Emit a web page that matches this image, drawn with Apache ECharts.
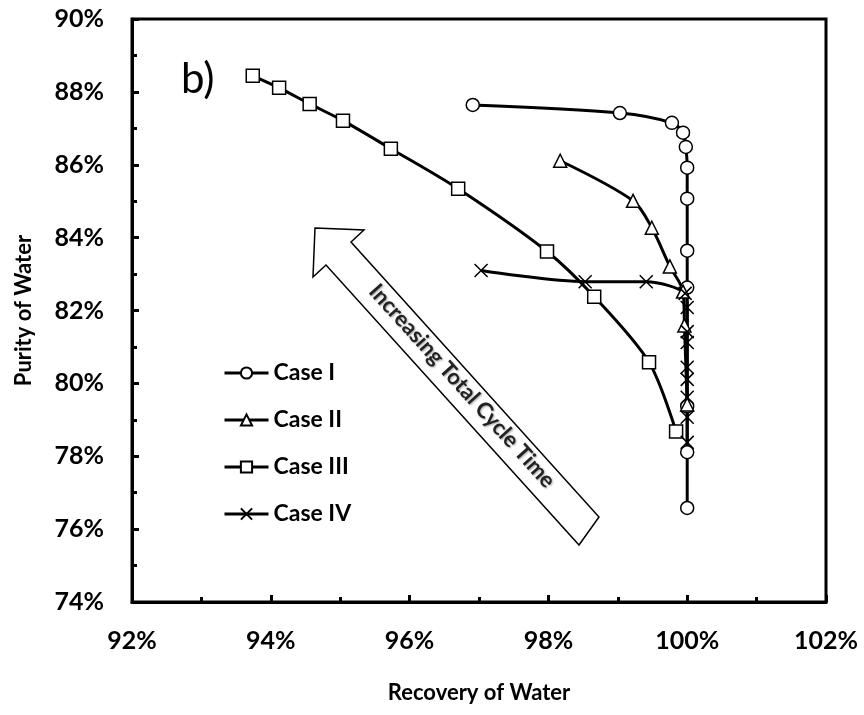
<!DOCTYPE html>
<html lang="en">
<head>
    <meta charset="UTF-8">
    <title>Purity vs Recovery of Water</title>
    <script src="https://cdn.jsdelivr.net/npm/echarts@6/dist/echarts.min.js"></script>
    <style>
        html, body { margin: 0; padding: 0; background: #fff; }
        #main { width: 864px; height: 715px; }
    </style>
</head>
<body>
<div id="main"></div>
<script type="text/javascript">
  // values, in percent
  var caseIX = [96.91, 99.03, 99.78, 99.94, 99.98, 100, 100, 100, 100, 100, 100, 100];
  var caseIY = [87.64, 87.42, 87.15, 86.88, 86.49, 85.92, 85.07, 83.64, 82.63, 79.37, 78.11, 76.58];

  var caseIIX = [98.17, 99.22, 99.49, 99.75, 99.94, 99.96, 100];
  var caseIIY = [86.11, 85.01, 84.27, 83.21, 82.52, 81.59, 79.42];

  var caseIIIX = [93.74, 94.12, 94.56, 95.04, 95.73, 96.70, 97.98, 98.66, 99.45, 99.84];
  var caseIIIY = [88.44, 88.11, 87.67, 87.21, 86.44, 85.34, 83.62, 82.38, 80.58, 78.68];

  var caseIVX = [97.03, 98.53, 99.41, 99.97, 100, 100, 100, 100, 100, 100, 100, 100];
  var caseIVY = [83.10, 82.79, 82.79, 82.47, 82.08, 81.42, 81.12, 80.44, 80.11, 79.62, 79.07, 78.38];

  var seriesNames = ['Case I', 'Case II', 'Case III', 'Case IV'];
  var xTicks = [92, 102, 2];   // min, max, interval
  var yTicks = [74, 90, 2];

  function zip(xs, ys) {
    var out = [];
    for (var i = 0; i < xs.length; i++) {
      out.push([xs[i], ys[i]]);
    }
    return out;
  }

  var FONT = 'Lato, "Open Sans", sans-serif';
  var crossSymbol = 'path://M0,0L10,10M0,10L10,0';

  function makeSeries(name, xs, ys, symbol) {
    return {
      name: name,
      type: 'line',
      data: zip(xs, ys),
      smooth: 0.3,
      symbol: symbol,
      symbolSize: 13,
      showAllSymbol: true,
      lineStyle: { color: '#000', width: 3 },
      itemStyle: { color: '#fff', borderColor: '#000', borderWidth: 1.5 }
    };
  }

  var axisCommon = {
    type: 'value',
    axisLine: { show: true, onZero: false, lineStyle: { color: '#000', width: 3 } },
    axisTick: { show: true, inside: true, length: 7, lineStyle: { color: '#000', width: 3 } },
    minorTick: { show: true, splitNumber: 2, length: 5, lineStyle: { color: '#000', width: 3 } },
    splitLine: { show: false },
    axisLabel: {
      color: '#000', fontFamily: FONT, fontWeight: 'bold', fontSize: 25,
      formatter: function (v) { return v + '%'; }
    },
    nameTextStyle: { color: '#000', fontFamily: FONT, fontWeight: 'bold', fontSize: 22 }
  };

  var myChart = echarts.init(document.getElementById('main'));
  var option = {
    backgroundColor: '#fff',
    animation: false,
    grid: {
      left: 132, right: 38, top: 19, bottom: 113,
      show: true, borderColor: '#000', borderWidth: 3, backgroundColor: 'transparent'
    },
    xAxis: Object.assign({}, axisCommon, {
      min: xTicks[0], max: xTicks[1], interval: xTicks[2],
      name: 'Recovery of Water', nameLocation: 'middle', nameGap: 80,
      axisLabel: Object.assign({}, axisCommon.axisLabel, { margin: 26 })
    }),
    yAxis: Object.assign({}, axisCommon, {
      min: yTicks[0], max: yTicks[1], interval: yTicks[2],
      name: 'Purity of Water', nameLocation: 'middle', nameGap: 97,
      axisLabel: Object.assign({}, axisCommon.axisLabel, { margin: 28 })
    }),
    legend: {
      data: seriesNames,
      orient: 'vertical',
      left: 218,
      top: 356,
      itemWidth: 44,
      itemHeight: 14,
      itemGap: 23,
      lineStyle: { color: '#000', width: 3 },
      textStyle: { color: '#000', fontFamily: FONT, fontWeight: 'bold', fontSize: 23, lineHeight: 24 }
    },
    graphic: [
      {
        type: 'text',
        left: 181,
        top: 58,
        style: { text: 'b)', fontFamily: FONT, fontSize: 42, fill: '#000' }
      },
      {
        type: 'polygon',
        shape: {
          points: [[315, 228], [364, 230], [351, 242], [599, 517], [579, 545], [326, 265], [313, 277]]
        },
        style: { fill: '#fff', stroke: '#000', lineWidth: 1.5 },
        z: 1
      },
      {
        type: 'text',
        x: 462,
        y: 386,
        rotation: -Math.atan2(275, 248),
        style: {
          text: 'Increasing Total Cycle Time',
          fontFamily: FONT, fontSize: 22, fontWeight: 'bold', fill: '#222',
          align: 'center', verticalAlign: 'middle',
          textShadowColor: 'rgba(0,0,0,0.35)', textShadowBlur: 2, textShadowOffsetX: 1, textShadowOffsetY: 1
        },
        z: 2
      }
    ],
    series: [
      makeSeries(seriesNames[0], caseIX, caseIY, 'circle'),
      makeSeries(seriesNames[1], caseIIX, caseIIY, 'triangle'),
      makeSeries(seriesNames[2], caseIIIX, caseIIIY, 'rect'),
      makeSeries(seriesNames[3], caseIVX, caseIVY, crossSymbol)
    ]
  };
  myChart.setOption(option);

  window.addEventListener('resize', function () {
    myChart.resize();
  });
</script>
</body>
</html>
